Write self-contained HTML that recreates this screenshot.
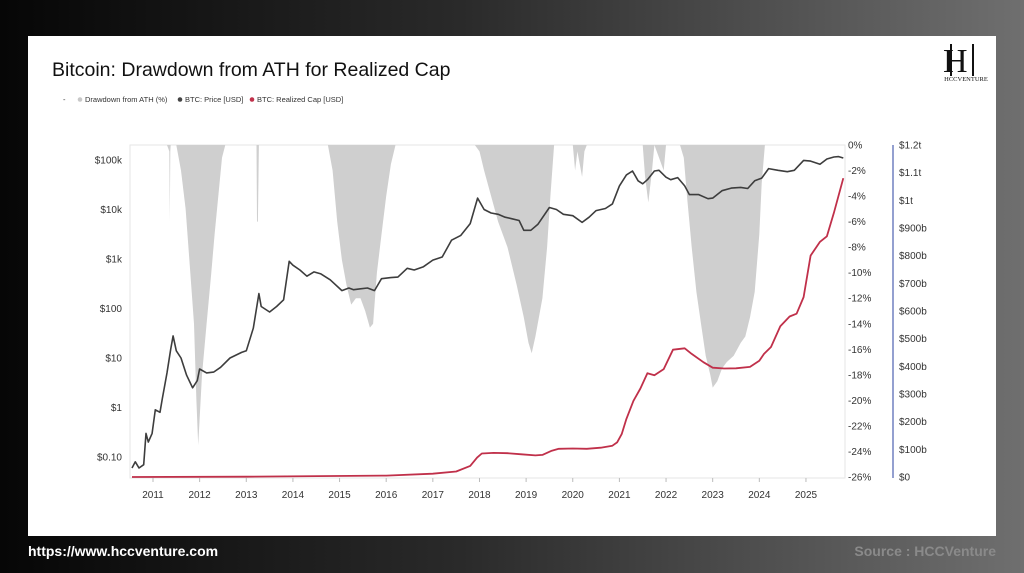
<!DOCTYPE html>
<html><head><meta charset="utf-8">
<style>
html,body{margin:0;padding:0;width:1024px;height:573px;overflow:hidden;font-family:"Liberation Sans",sans-serif}
#bg{position:absolute;left:0;top:0;width:1024px;height:573px;background:linear-gradient(90deg,#060606 0%,#2a2a2a 45%,#6f6f6f 100%)}
#card{position:absolute;left:28px;top:36px;width:968px;height:500px;background:#fff}
.foot{position:absolute;top:543px;font-size:14px;font-weight:bold}
</style></head><body>
<div id="bg"></div>
<div id="card"></div>
<svg id="chart" width="1024" height="573" style="position:absolute;left:0;top:0">
<text x="52" y="76" font-size="19.5" fill="#111">Bitcoin: Drawdown from ATH for Realized Cap</text>
<g font-size="7.5" fill="#333">
<text x="63" y="102">-</text>
<g><circle cx="80" cy="99.5" r="2.3" fill="#c8c8c8"/><text x="85" y="102">Drawdown from ATH (%)</text></g>
<g><circle cx="180" cy="99.5" r="2.3" fill="#444"/><text x="185" y="102">BTC: Price [USD]</text></g>
<g><circle cx="252" cy="99.5" r="2.3" fill="#c0304a"/><text x="257" y="102">BTC: Realized Cap [USD]</text></g>
</g>
<g>
<text x="943" y="72" font-family="Liberation Serif,serif" font-size="34" fill="#111">H</text>
<line x1="951" y1="44" x2="951" y2="76" stroke="#111" stroke-width="2"/>
<line x1="973" y1="44" x2="973" y2="76" stroke="#111" stroke-width="2"/>
<text x="966" y="81" text-anchor="middle" font-family="Liberation Serif,serif" font-size="6.5" fill="#111">HCCVENTURE</text>
</g>
<rect x="130" y="145" width="715" height="333" fill="none" stroke="#e6e6e6"/>
<g id="dd"></g>
<g id="lines"></g>
<g id="axes"></g>
<line x1="893" y1="145" x2="893" y2="478" stroke="#7080c0" stroke-width="1.5"/>
</svg>
<div class="foot" style="left:28px;color:#fff">https://www.hccventure.com</div>
<div class="foot" style="right:28px;color:#8a8a8a">Source : HCCVenture</div>
<script>
const xYears=[2011,2012,2013,2014,2015,2016,2017,2018,2019,2020,2021,2022,2023,2024,2025];
const priceTicks=[0.1,1,10,100,1000,10000,100000];
const priceTickLabels=["$0.10","$1","$10","$100","$1k","$10k","$100k"];
const ddTicks=[0,-2,-4,-6,-8,-10,-12,-14,-16,-18,-20,-22,-24,-26];
const capTicks=[0,100,200,300,400,500,600,700,800,900,1000,1100,1200];
const capTickLabels=["$0","$100b","$200b","$300b","$400b","$500b","$600b","$700b","$800b","$900b","$1t","$1.1t","$1.2t"];
// drawdown from ATH (%) : [year, value]
const ddYears=[2010.55,2011.30,2011.35,2011.36,2011.37,2011.38,2011.50,2011.60,2011.70,2011.80,2011.88,2011.93,2011.97,2012.05,2012.15,2012.25,2012.32,2012.40,2012.48,2012.55,2013.22,2013.23,2013.25,2013.27,2013.3,2014.6,2014.75,2014.85,2014.95,2015.05,2015.15,2015.25,2015.35,2015.45,2015.55,2015.65,2015.72,2015.8,2015.9,2016.0,2016.1,2016.2,2017.9,2018.0,2018.1,2018.25,2018.4,2018.6,2018.8,2018.95,2019.05,2019.12,2019.2,2019.35,2019.45,2019.52,2019.6,2020.0,2020.05,2020.1,2020.2,2020.25,2020.3,2021.5,2021.55,2021.62,2021.7,2021.75,2021.9,2021.95,2022.0,2022.3,2022.38,2022.45,2022.55,2022.65,2022.75,2022.85,2022.95,2023.0,2023.1,2023.2,2023.3,2023.45,2023.6,2023.7,2023.8,2023.9,2024.0,2024.05,2024.12,2025.8];
const ddValues=[0,0,-0.5,-6,-0.5,0,0,-2,-5,-10,-14,-20,-23.5,-18,-14,-10,-7,-4,-1,0,0,-6,-6,0,0,0,0,-2,-6,-9,-11,-12.5,-12,-12,-13,-14.3,-14,-10,-7,-4,-1.5,0,0,-0.5,-2,-4,-6,-8,-11,-13.5,-15.5,-16.3,-15,-12,-8,-4,0,0,-2,-0.5,-2.5,-0.5,0,0,-2.5,-4.5,-2,0,-1.5,-2,0,0,-1,-4,-8,-11.5,-14,-16.5,-18,-19,-18.5,-17.5,-17,-16.5,-15.5,-15,-13.5,-11.5,-7,-3,0,0];
// BTC price (USD)
const priceYears=[2010.55,2010.62,2010.7,2010.8,2010.85,2010.9,2010.98,2011.05,2011.15,2011.2,2011.3,2011.38,2011.43,2011.5,2011.6,2011.72,2011.85,2011.95,2012.0,2012.15,2012.3,2012.45,2012.65,2012.9,2013.0,2013.15,2013.27,2013.32,2013.5,2013.65,2013.8,2013.92,2014.0,2014.15,2014.3,2014.45,2014.6,2014.8,2015.05,2015.2,2015.3,2015.45,2015.6,2015.75,2015.9,2016.1,2016.25,2016.45,2016.6,2016.8,2017.0,2017.2,2017.4,2017.6,2017.8,2017.96,2018.1,2018.25,2018.4,2018.55,2018.7,2018.85,2018.95,2019.1,2019.25,2019.5,2019.65,2019.8,2020.0,2020.2,2020.35,2020.5,2020.7,2020.85,2021.0,2021.15,2021.28,2021.4,2021.5,2021.6,2021.75,2021.85,2022.0,2022.1,2022.25,2022.4,2022.5,2022.7,2022.9,2023.0,2023.2,2023.4,2023.6,2023.75,2023.9,2024.05,2024.2,2024.4,2024.6,2024.75,2024.95,2025.1,2025.3,2025.45,2025.6,2025.7,2025.8];
const priceValues=[0.06,0.08,0.06,0.07,0.3,0.2,0.3,0.9,0.8,1.5,5,15,28,14,10,4.5,2.5,3.5,6,5,5.2,6.5,10,13,14,40,200,110,85,110,150,900,750,600,450,550,500,380,230,260,240,250,260,230,400,420,430,650,600,700,950,1100,2400,3000,5200,17000,10000,8500,8000,7000,6500,6000,3800,3800,5000,11000,10000,8000,7500,5500,7000,9500,10500,13000,30000,50000,60000,38000,33000,40000,60000,62000,45000,40000,44000,30000,20000,20000,16500,17000,24000,27000,28000,26500,38000,43000,67000,62000,58000,62000,98000,95000,82000,105000,115000,117000,110000];
// Realized cap (billions USD)
const capYears=[2010.55,2013.0,2016.0,2017.0,2017.5,2017.8,2017.95,2018.05,2018.3,2018.6,2018.9,2019.2,2019.35,2019.55,2019.7,2020.0,2020.3,2020.6,2020.85,2020.95,2021.05,2021.15,2021.3,2021.45,2021.6,2021.75,2021.95,2022.15,2022.4,2022.55,2022.8,2023.0,2023.25,2023.5,2023.8,2024.0,2024.1,2024.25,2024.45,2024.65,2024.8,2024.95,2025.1,2025.3,2025.45,2025.6,2025.8];
const capValues=[0.1,1,5,12,20,40,70,85,87,86,82,78,80,95,102,103,102,106,113,125,155,210,275,320,375,368,390,460,465,445,415,395,392,393,398,420,445,470,545,580,590,650,800,850,870,955,1080];

const X=y=>153+(y-2011)*46.64;
const Yp=p=>457-49.5*Math.log10(p/0.1);
const Yd=d=>145-d*12.77;
const Yc=c=>477-c*0.2767;
const NS="http://www.w3.org/2000/svg";
function mk(tag,attrs,parent){const e=document.createElementNS(NS,tag);for(const k in attrs)e.setAttribute(k,attrs[k]);parent.appendChild(e);return e;}

let d="M"+X(ddYears[0])+","+Yd(0);
ddYears.forEach((y,i)=>{d+=" L"+X(y).toFixed(1)+","+Yd(ddValues[i]).toFixed(1);});
d+=" L"+X(ddYears[ddYears.length-1])+","+Yd(0)+" Z";
const area=mk("path",{d:d,fill:"#cfcfcf"},document.getElementById("dd"));



const lines=document.getElementById("lines");
let pd=priceYears.map((y,i)=>(i?"L":"M")+X(y).toFixed(1)+","+Yp(priceValues[i]).toFixed(1)).join(" ");
const pl=mk("path",{d:pd,fill:"none",stroke:"#3d3d3d","stroke-width":1.6,"stroke-linejoin":"round"},lines);


let cd=capYears.map((y,i)=>(i?"L":"M")+X(y).toFixed(1)+","+Yc(capValues[i]).toFixed(1)).join(" ");
const cl=mk("path",{d:cd,fill:"none",stroke:"#c0304a","stroke-width":1.8,"stroke-linejoin":"round"},lines);



const ax=document.getElementById("axes");
xYears.forEach(y=>{
  const t=mk("text",{x:X(y),y:498,"font-size":10,fill:"#333","text-anchor":"middle"},ax);t.textContent=y;
  
  
  mk("line",{x1:X(y),x2:X(y),y1:478,y2:482,stroke:"#bbb"},ax);
});
priceTicks.forEach((p,i)=>{
  const t=mk("text",{x:122,y:Yp(p)+3.5,"font-size":10,fill:"#333","text-anchor":"end"},ax);t.textContent=priceTickLabels[i];
  
  
});
ddTicks.forEach(v=>{
  const t=mk("text",{x:848,y:Yd(v)+3.5,"font-size":10,fill:"#333"},ax);t.textContent=v+"%";
  
  
});
capTicks.forEach((c,i)=>{
  const t=mk("text",{x:899,y:Yc(c)+3.5,"font-size":10,fill:"#333"},ax);t.textContent=capTickLabels[i];
  
  
});
</script>
</body></html>
